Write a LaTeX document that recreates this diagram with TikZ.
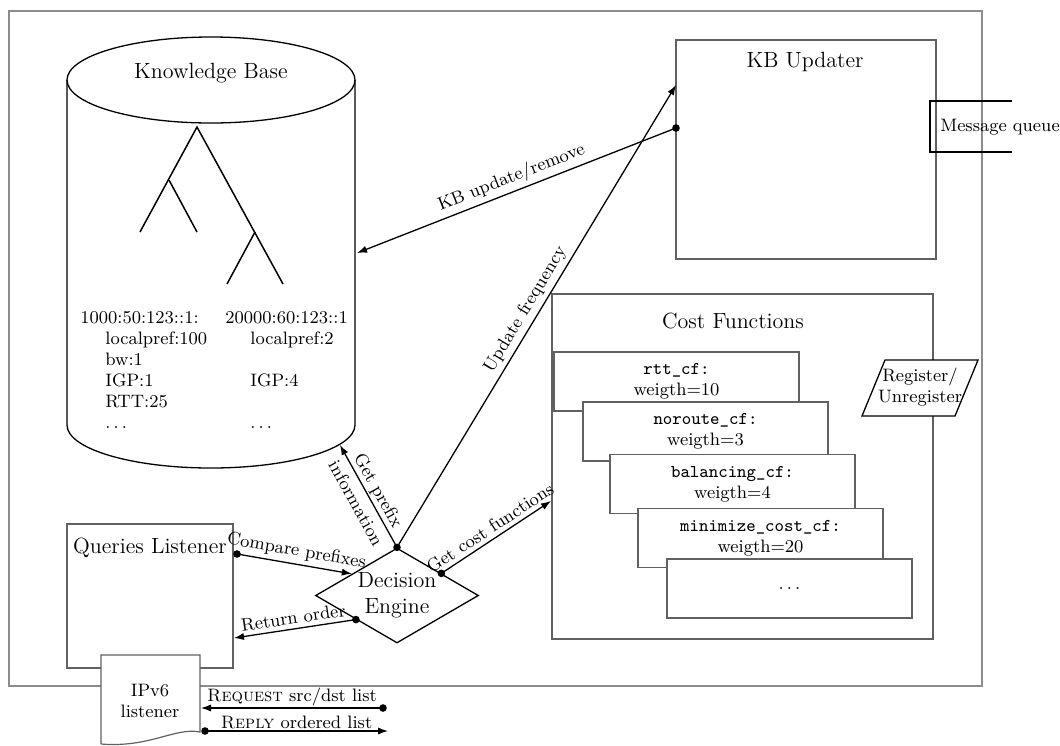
\documentclass[tikz,border=0pt]{standalone}
\usetikzlibrary{shapes.geometric,arrows.meta,calc}
\definecolor{framegray}{gray}{0.55}
\definecolor{boxgray}{gray}{0.38}
\newcommand{\moredots}{$\ldots$}
\begin{document}
\begin{tikzpicture}[x=0.5pt,y=-0.5pt,
  font=\fontsize{9}{10.5}\selectfont,
  title/.style={font=\fontsize{11}{13}\selectfont, inner sep=0pt},
  box/.style={draw=boxgray, line width=0.6pt, inner sep=0pt},
  cfbox/.style={box, fill=white, minimum width=122.5pt, minimum height=29.5pt, align=center},
  link/.style={line width=0.65pt, -{Latex[length=5pt,width=3.6pt]}},
  dot/.style={circle, fill=black, inner sep=0pt, minimum size=3.8pt},
  lbl/.style={sloped, inner sep=2pt},
  solid line/.style={line width=0.65pt},
]
\useasboundingbox (0,0) rectangle (1060,745);

% outer frame
\draw[draw=framegray, line width=0.6pt] (9,11) rectangle (982,686);

% knowledge base cylinder
\draw[solid line] (211,80) ellipse [x radius=144, y radius=43];
\draw[solid line] (67,80) -- (67,425) arc[start angle=180, end angle=0, x radius=144, y radius=43] -- (355,80);
\node[title] (kbT) at (211,73) {Knowledge Base};

% prefix tree
\draw[line width=0.75pt] (140,232) -- (197,127) -- (283,284);
\draw[line width=0.75pt] (169,180) -- (197,232);
\draw[line width=0.75pt] (255,232) -- (227,284);

% prefix attributes
\node[anchor=north west, inner sep=0pt, align=left] (kbL) at (80,311)
  {1000:50:123::1:\\
   \hspace*{12.5pt}localpref:100\\
   \hspace*{12.5pt}bw:1\\
   \hspace*{12.5pt}IGP:1\\
   \hspace*{12.5pt}RTT:25\\
   \hspace*{12.5pt}\moredots};
\node[anchor=north west, inner sep=0pt, align=left] (kbR) at (225,311)
  {20000:60:123::1\\
   \hspace*{12.5pt}localpref:2\\
   \mbox{}\\
   \hspace*{12.5pt}IGP:4\\
   \mbox{}\\
   \hspace*{12.5pt}\moredots};

% KB updater
\node[box, minimum width=130pt, minimum height=109.5pt] (kbu) at (806,149.5) {};
\node[title] (kbuT) at (805,62) {KB Updater};

% message queue
\draw[solid line] (1012,101) -- (930,101) -- (930,152) -- (1012,152);
\draw[line width=1.3pt] (930,102) -- (930,145);
\node (mq) at (1000,127) {Message queue};

% cost functions
\node[box, minimum width=190.5pt, minimum height=172.5pt] (cf) at (742.5,466.5) {};
\node[title] (cfT) at (733,321) {Cost Functions};
\node[cfbox] (cf1) at (676.5,381.5) {\texttt{rtt\_cf:}\\weigth=10};
\node[cfbox] (cf2) at (705.5,431.5) {\texttt{noroute\_cf:}\\weigth=3};
\node[cfbox] (cf3) at (732.5,484) {\texttt{balancing\_cf:}\\weigth=4};
\node[cfbox] (cf4) at (760.5,538) {\texttt{minimize\_cost\_cf:}\\weigth=20};
\node[cfbox] (cf5) at (789.5,588.5) {\moredots};

% register / unregister
\draw[solid line, fill=white] (885,360) -- (978,360) -- (955,416) -- (862,416) -- cycle;
\node[align=center, inner sep=0pt] (reg) at (920,387.5) {Register/\\Unregister};

% queries listener
\node[box, minimum width=83pt, minimum height=72pt] (ql) at (150,596) {};
\node[title] (qlT) at (150,548) {Queries Listener};

% IPv6 listener
\draw[draw=boxgray, fill=white, line width=0.6pt]
  (101,744) -- (101,655) -- (200,655) -- (200,732)
  .. controls (175,727) and (150,748) .. (101,744);
\node[align=center, inner sep=0pt] (ip) at (150,701) {IPv6\\listener};

% decision engine
\node[draw, diamond, solid line, fill=white, minimum width=81.5pt, minimum height=47.5pt,
      inner sep=0pt, aspect=1.7, align=center, font=\fontsize{11}{13}\selectfont]
  (de) at (397,595.5) {Decision\\Engine};

% connector end points
\coordinate (qlA) at (237,554);
\coordinate (qlB) at (234,638);
\coordinate (deA) at ($(de.west)!0.45!(de.north)$);
\coordinate (deB) at ($(de.west)!0.5!(de.south)$);
\coordinate (deC) at ($(de.north)!0.54!(de.east)$);
\coordinate (kbS) at (340,445);
\coordinate (kbE) at (357,253);
\coordinate (kbuA) at (676,85);
\coordinate (kbuB) at (676,128);
\coordinate (cfA) at (551,501);
\coordinate (ipA) at (201,708);
\coordinate (ipB) at (205,731);
\coordinate (reqS) at (383,708);
\coordinate (repE) at (388,731);

% connectors
\draw[link] (qlA) -- node[lbl, above] {Compare prefixes} (deA);
\draw[link] (deB) -- node[lbl, above] {Return order} (qlB);
\draw[link] (de.north) -- node[sloped, align=center, inner sep=0pt,
    font=\fontsize{9}{13}\selectfont, yshift=-0.5pt] {Get prefix\\information} (kbS);
\draw[link] (de.north) -- node[lbl, above] {Update frequency} (kbuA);
\draw[link] (kbuB) -- node[lbl, above] {KB update/remove} (kbE);
\draw[link] (deC) -- node[lbl, above] {Get cost functions} (cfA);
\draw[link] (reqS) -- node[above, inner sep=0.8pt] {\textsc{Request} src/dst list} (ipA);
\draw[link] (ipB) -- node[above, inner sep=0.8pt] {\textsc{Reply} ordered list} (repE);

% connector start dots
\foreach \p in {qlA, deB, de.north, kbuB, deC, reqS, ipB}
  \node[dot] at (\p) {};
\end{tikzpicture}
\end{document}
